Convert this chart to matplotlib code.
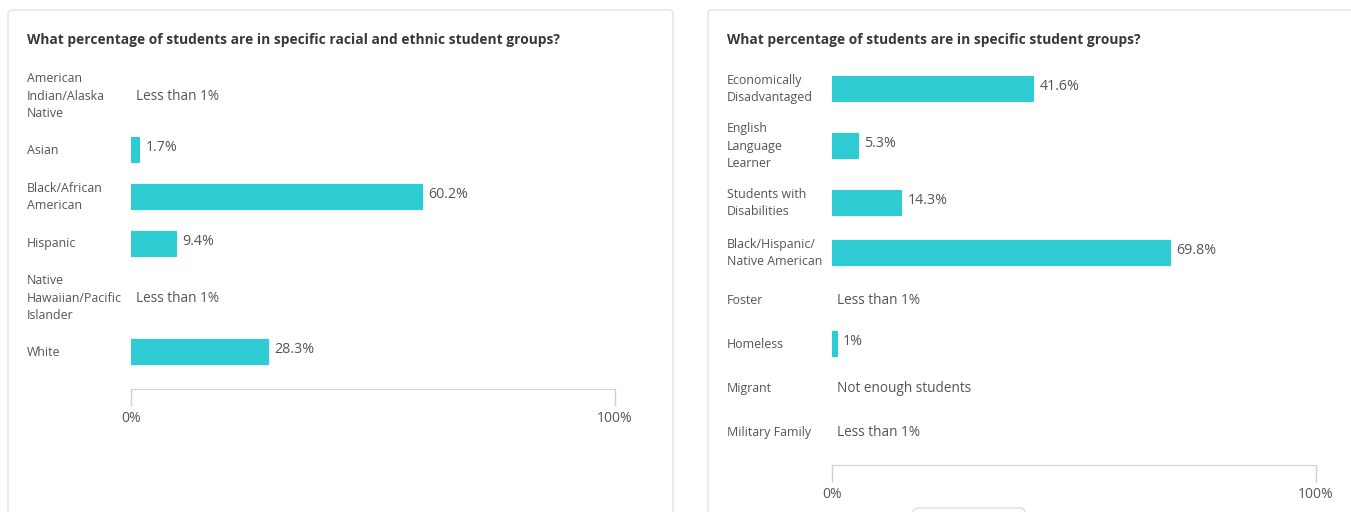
import matplotlib.pyplot as plt
from matplotlib.patches import FancyBboxPatch
from matplotlib.transforms import IdentityTransform

plt.rcParams['font.family'] = ['Open Sans', 'DejaVu Sans']

# --- data ---
race_labels = ['American\nIndian/Alaska\nNative', 'Asian', 'Black/African\nAmerican',
               'Hispanic', 'Native\nHawaiian/Pacific\nIslander', 'White']
race_values = [None, 1.7, 60.2, 9.4, None, 28.3]
race_notes = ['Less than 1%', None, None, None, 'Less than 1%', None]

group_labels = ['Economically\nDisadvantaged', 'English\nLanguage\nLearner',
                'Students with\nDisabilities', 'Black/Hispanic/\nNative American',
                'Foster', 'Homeless', 'Migrant', 'Military Family']
group_values = [41.6, 5.3, 14.3, 69.8, None, 1.0, None, None]
group_notes = [None, None, None, None, 'Less than 1%', None, 'Not enough students', 'Less than 1%']

titles = ['What percentage of students are in specific racial and ethnic student groups?',
          'What percentage of students are in specific student groups?']

BAR = '#2fcbd3'
TXT = '#555555'
W, H = 1351, 512

fig = plt.figure(figsize=(W / 100, H / 100), dpi=100)
fig.patch.set_facecolor('white')


def fmt(v):
    return f'{v:g}%' if v == int(v) else f'{v:.1f}%'


def row_centers(labels, first):
    hts = {1: 44, 2: 50, 3: 64}
    n = [l.count('\n') + 1 for l in labels]
    c = [first]
    for i in range(1, len(n)):
        c.append(c[-1] + (hts[n[i - 1]] + hts[n[i]]) / 2)
    return c


def panel(card_x0, card_x1, x0, x1, first, base, labels, values, notes, title):
    fig.add_artist(FancyBboxPatch((card_x0, -20), card_x1 - card_x0, H - 10 + 20,
                                  boxstyle='round,pad=0,rounding_size=4',
                                  transform=IdentityTransform(), zorder=-5,
                                  facecolor='white', edgecolor='#e3e3e3', lw=1))
    fig.text((card_x0 + 19) / W, 1 - 40 / H, title, fontsize=9.95, fontweight='bold',
             color='#383838', va='center', ha='left')
    top = 55
    ax = fig.add_axes([x0 / W, 1 - base / H, (x1 - x0) / W, (base - top) / H])
    ax.set_zorder(2)
    ax.set_xlim(0, 100)
    ax.set_ylim(base, top)
    ax.patch.set_alpha(0)
    ys = row_centers(labels, first)
    for y, lab, v, note in zip(ys, labels, values, notes):
        ax.annotate(lab, xy=(card_x0 + 19, y), xycoords=('figure pixels', 'data'),
                    fontsize=8.9, color=TXT, va='center', ha='left', linespacing=1.42,
                    annotation_clip=False)
        if v is None:
            ax.annotate(note, xy=(0, y), xytext=(3.8, 0), textcoords='offset points',
                        fontsize=9.8, color=TXT, va='center', ha='left')
        else:
            ax.barh(y, v, height=24.5, color=BAR, edgecolor=BAR, linewidth=1.6,
                    joinstyle='round')
            ax.annotate(fmt(v), xy=(v, y), xytext=(4.5, 1.5), textcoords='offset points',
                        fontsize=10.3, color=TXT, va='center', ha='left')
    for s in ['top', 'left', 'right']:
        ax.spines[s].set_visible(False)
    ax.spines['bottom'].set_color('#d0d0d0')
    ax.set_yticks([])
    ax.set_xticks([0, 100])
    ax.set_xticklabels(['0%', '100%'])
    ax.tick_params(axis='x', length=12, width=1, color='#d0d0d0', pad=4,
                   labelsize=10, labelcolor=TXT)
    return ax


panel(8, 673, 131, 615, 96, 389, race_labels, race_values, race_notes, titles[0])
panel(708, 1380, 832, 1316, 89, 465, group_labels, group_values, group_notes, titles[1])

# partially visible button at the bottom of the right card
fig.add_artist(FancyBboxPatch((913, -20), 112, 24, boxstyle='round,pad=0,rounding_size=5',
                              transform=IdentityTransform(), zorder=1,
                              facecolor='white', edgecolor='#e2dcdc', lw=1))

fig.savefig('out.png', dpi=100, facecolor='white')
